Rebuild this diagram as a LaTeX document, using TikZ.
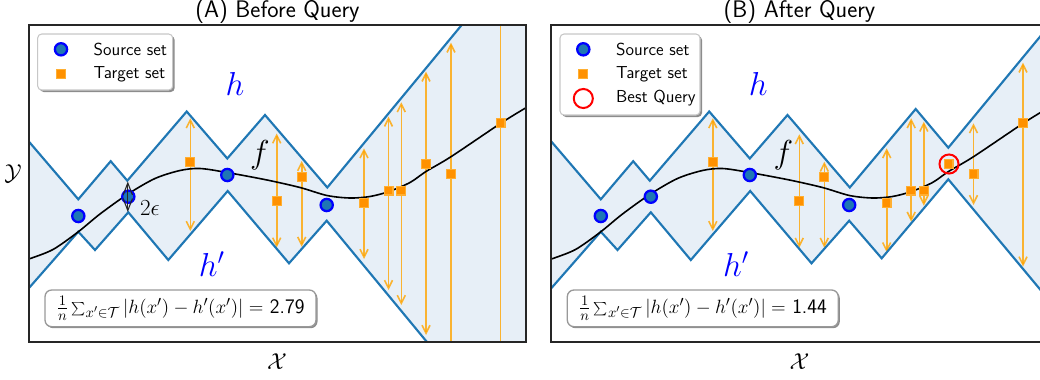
\documentclass[tikz,border=0pt]{standalone}
\usetikzlibrary{arrows.meta}
\definecolor{cblue}{RGB}{31,119,180}
\definecolor{cfill}{RGB}{231,239,247}
\definecolor{corg}{RGB}{255,165,0}
\definecolor{csq}{RGB}{255,145,0}
\definecolor{csqe}{RGB}{255,175,50}
\begin{document}
\begin{tikzpicture}[x=0.75pt,y=-0.75pt,
  region/.style={fill=cfill},
  hline/.style={draw=cblue,line width=1.6pt,line join=miter},
  fcurve/.style={draw=black,line width=1.2pt},
  tarr/.style={draw=corg,draw opacity=0.8,line width=1.2pt,
    {Straight Barb[length=6pt,width=6pt]}-{Straight Barb[length=6pt,width=6pt]}},
  epsarr/.style={draw=black!85,line width=0.8pt,
    {Straight Barb[length=9pt,width=7pt]}-{Straight Barb[length=9pt,width=7pt]}},
  src/.style={circle,fill=cblue,draw=blue,line width=1.7pt,inner sep=0pt,minimum size=9.2pt},
  tgt/.style={rectangle,fill=csq,draw=csqe,line width=0.8pt,inner sep=0pt,minimum size=6.7pt},
  qry/.style={circle,draw=red,line width=1.5pt,inner sep=0pt,minimum size=14.3pt},
  frame/.style={draw=black!85,line width=0.9pt},
  legbox/.style={fill=white,draw=black!22,line width=0.8pt,rounded corners=3pt},
  shadowbox/.style={fill=black!45,rounded corners=3pt},
  fbox/.style={fill=white,draw=black!40,line width=1pt,rounded corners=5pt},
  titletext/.style={font=\sffamily\fontsize{18}{21}\selectfont},
  legtext/.style={font=\sffamily\fontsize{13}{15}\selectfont,anchor=west},
  mathlbl/.style={font=\fontsize{23}{26}\selectfont},
  axlbl/.style={font=\fontsize{19}{22}\selectfont},
]
\useasboundingbox (0,0) rectangle (1040,379);
\def\fpts{(20,262) (29,259) (53,249.5) (78,232) (100,214) (128,194) (155,178.5) (180,170.5) (200,168.5) (227,172.5) (267,180) (300,187.5) (327,195.5) (350,198) (370,196.5) (389,191.5) (410,182.5) (426,171.5) (451,156.7) (500.7,123.3) (526.7,107.3) (540,100)}

% ================= Panel A =================
\begin{scope}
\clip (29,25) rectangle (526,342);
\fill[region] (20,131.2) -- (29,141.7) -- (78.3,199.3) -- (110.7,161.2) -- (127.3,180.7) -- (186.7,111.5) -- (227.3,158.5) -- (265,115) -- (327.3,187.5) -- (540,-69.7)
  -- (540,478.8) -- (326.7,220.7) -- (289,263.3) -- (227.7,191) -- (168.3,260) -- (128.3,212.3) -- (95,250) -- (78.3,231.7) -- (29,288) -- (20,298.3) -- cycle;
% arrows
\draw[tarr] (190.3,118.3) -- (190.3,231);
\draw[tarr] (276.7,133.5) -- (276.7,247.5);
\draw[tarr] (301.7,161) -- (301.7,246.7);
\draw[tarr] (364,148.3) -- (364,259);
\draw[tarr] (388.5,116.7) -- (388.5,290);
\draw[tarr] (401.3,102.3) -- (401.3,305);
\draw[tarr] (426,71.7) -- (426,335);
\draw[tarr] (451,42.7) -- (451,367);
\draw[tarr] (500.5,-20) -- (500.5,426);
% h and h'
\draw[hline] (20,131.2) -- (29,141.7) -- (78.3,199.3) -- (110.7,161.2) -- (127.3,180.7) -- (186.7,111.5) -- (227.3,158.5) -- (265,115) -- (327.3,187.5) -- (540,-69.7);
\draw[hline] (20,298.3) -- (29,288) -- (78.3,231.7) -- (95,250) -- (128.3,212.3) -- (168.3,260) -- (227.7,191) -- (289,263.3) -- (326.7,220.7) -- (540,478.8);
% f
\draw[fcurve] plot[smooth] coordinates {\fpts};
% targets
\foreach \x/\y [count=\i] in {190.3/162,276.7/201,301.7/177.3,364/203.3,388.5/190.5,401.3/190.5,426/164,451/174,500.5/122.7}
  \node[tgt] (ta\i) at (\x,\y) {};
% sources
\foreach \x/\y [count=\i] in {78.3/216,128.3/196.7,227.3/175,326.7/205}
  \node[src] (sa\i) at (\x,\y) {};
% 2 epsilon
\coordinate (epstop) at (127.8,181.5);
\coordinate (epsbot) at (127.8,212);
\draw[epsarr] (epstop) -- (epsbot);
\end{scope}
\node[font=\fontsize{17}{20}\selectfont] (eps) at (150,208.5) {$2\epsilon$};
\draw[frame] (29,25) rectangle (526,342);
\node[titletext] (titleA) at (277.5,12) {(A) Before Query};
\node[mathlbl,text=blue,anchor=base] (hA) at (235,95) {$h$};
\node[mathlbl,text=blue,anchor=base] (hpA) at (211.7,276.7) {$h'$};
\node[mathlbl,anchor=base] (fA) at (260,163.4) {$f$};
\node[axlbl] (xA) at (277,362) {$\mathcal{X}$};
\node[axlbl] (yA) at (13,174) {$\mathcal{Y}$};
% legend A
\fill[shadowbox] (39.7,36) rectangle (174.7,92);
\draw[legbox] (37.7,34) rectangle (172.7,90);
\node[src] (lsA) at (61,49.3) {};
\node[legtext] (lsAt) at (89,49.3) {Source set};
\node[tgt] (ltA) at (61,74) {};
\node[legtext] (ltAt) at (89,74) {Target set};
% formula A
\fill[shadowbox,rounded corners=5pt] (46.5,291.5) rectangle (317.5,328.2);
\draw[fbox] (45,290) rectangle (316,326.7);
\node[font=\sffamily\fontsize{15.5}{18}\selectfont] (formA) at (180.5,308.3) {$\frac{1}{n}\sum_{x'\in\mathcal{T}}|h(x')-h'(x')|=$ 2.79};

% ================= Panel B =================
\begin{scope}
\clip (551,25) rectangle (1048,342);
\fill[region] (542.5,131.2) -- (551.5,141.7) -- (600.8,199.3) -- (633.2,161.2) -- (649.8,180.7) -- (709.2,111.5) -- (749.8,158.5) -- (787.5,115) -- (849.8,187.5) -- (915.7,109) -- (948.3,147.7) -- (1060,12.5)
  -- (1060,313.3) -- (948.3,179.3) -- (881.7,258.3) -- (849.2,220.7) -- (811.5,263.3) -- (750.2,191) -- (690.8,260) -- (650.8,212.3) -- (617.5,250) -- (600.8,231.7) -- (551.5,288) -- (542.5,298.3) -- cycle;
\draw[tarr] (712.8,118.3) -- (712.8,231);
\draw[tarr] (799.3,134.3) -- (799.3,247.7);
\draw[tarr] (824.3,161.7) -- (824.3,247.7);
\draw[tarr] (886.7,148.3) -- (886.7,252.3);
\draw[tarr] (911.2,118.3) -- (911.2,221.7);
\draw[tarr] (923.8,121.7) -- (923.8,205.7);
\draw[tarr] (973.5,123.3) -- (973.5,205);
\draw[tarr] (1023,62.7) -- (1023,266.5);
\draw[hline] (542.5,131.2) -- (551.5,141.7) -- (600.8,199.3) -- (633.2,161.2) -- (649.8,180.7) -- (709.2,111.5) -- (749.8,158.5) -- (787.5,115) -- (849.8,187.5) -- (915.7,109) -- (948.3,147.7) -- (1060,12.5);
\draw[hline] (542.5,298.3) -- (551.5,288) -- (600.8,231.7) -- (617.5,250) -- (650.8,212.3) -- (690.8,260) -- (750.2,191) -- (811.5,263.3) -- (849.2,220.7) -- (881.7,258.3) -- (948.3,179.3) -- (1060,313.3);
\begin{scope}[xshift=391.875pt]
\draw[fcurve] plot[smooth] coordinates {\fpts};
\end{scope}
\foreach \x/\y [count=\i] in {712.8/162,799.2/201,824.2/177.3,886.5/203.3,911/190.5,923.8/190.5,948.5/164,973.5/174,1023/122.7}
  \node[tgt] (tb\i) at (\x,\y) {};
\node[qry] (best) at (949,164) {};
\foreach \x/\y [count=\i] in {600.8/216,650.8/196.7,749.8/175,849.2/205}
  \node[src] (sb\i) at (\x,\y) {};
\end{scope}
\draw[frame] (551,25) rectangle (1048,342);
\node[titletext] (titleB) at (799.5,12) {(B) After Query};
\node[mathlbl,text=blue,anchor=base] (hB) at (758.3,95) {$h$};
\node[mathlbl,text=blue,anchor=base] (hpB) at (736,276.7) {$h'$};
\node[mathlbl,anchor=base] (fB) at (783.3,163.4) {$f$};
\node[axlbl] (xB) at (799.5,362) {$\mathcal{X}$};
% legend B
\fill[shadowbox] (562,36) rectangle (702,117);
\draw[legbox] (560,34) rectangle (700,115);
\node[src] (lsB) at (583.3,49.3) {};
\node[legtext] (lsBt) at (611.5,49.3) {Source set};
\node[tgt] (ltB) at (583.3,74) {};
\node[legtext] (ltBt) at (611.5,74) {Target set};
\node[qry] (lqB) at (583.3,98.5) {};
\node[legtext] (lqBt) at (611.5,98.5) {Best Query};
% formula B
\fill[shadowbox,rounded corners=5pt] (568.8,291.5) rectangle (839.8,328.2);
\draw[fbox] (567.3,290) rectangle (838.3,326.7);
\node[font=\sffamily\fontsize{15.5}{18}\selectfont] (formB) at (702.8,308.3) {$\frac{1}{n}\sum_{x'\in\mathcal{T}}|h(x')-h'(x')|=$ 1.44};
\end{tikzpicture}
\end{document}
